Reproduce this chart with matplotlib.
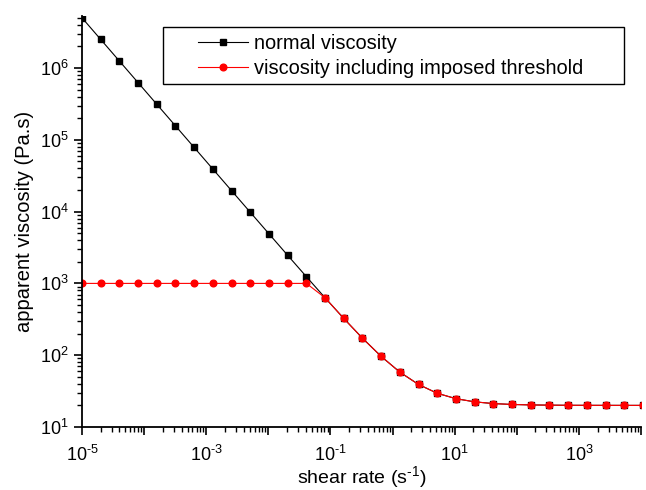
import matplotlib
matplotlib.use('Agg')
import matplotlib.pyplot as plt
from matplotlib.patches import Rectangle
from matplotlib.ticker import LogLocator, FixedLocator, NullFormatter

plt.rcParams['font.family'] = ['Liberation Sans', 'DejaVu Sans']
plt.rcParams['mathtext.fontset'] = 'custom'
plt.rcParams['mathtext.rm'] = 'Liberation Sans'
plt.rcParams['mathtext.it'] = 'Liberation Sans'

# shear rate (1/s)
shear_rate = [1e-5, 2e-5, 4e-5, 8e-5, 1.6e-4, 3.2e-4, 6.4e-4, 1.28e-3,
              2.56e-3, 5.12e-3, 1.024e-2, 2.048e-2, 4.096e-2, 8.192e-2,
              0.16384, 0.32768, 0.65536, 1.31072, 2.62144, 5.24288,
              10.48576, 20.97152, 41.94304, 83.88608, 167.77216, 335.54432,
              671.08864, 1342.17728, 2684.35456, 5368.70912, 10737.41824]
# apparent viscosity (Pa.s)
normal_visc = [5.0e6, 2.5e6, 1.25e6, 6.25e5, 3.125e5, 1.5627e5, 78145, 39082,
               19551, 9786, 4903, 2461, 1241, 630.4,
               325.2, 172.6, 96.3, 58.1, 39.1, 29.5,
               24.8, 22.4, 21.2, 20.6, 20.3, 20.15,
               20.07, 20.04, 20.02, 20.01, 20.0]
threshold_visc = [1000, 1000, 1000, 1000, 1000, 1000, 1000, 1000,
                  1000, 1000, 1000, 1000, 1000, 630.4,
                  325.2, 172.6, 96.3, 58.1, 39.1, 29.5,
                  24.8, 22.4, 21.2, 20.6, 20.3, 20.15,
                  20.07, 20.04, 20.02, 20.01, 20.0]

W, H = 646, 490
fig = plt.figure(figsize=(W / 100, H / 100), dpi=100)
ax = fig.add_axes([82 / W, 63 / H, 559 / W, 411 / H])

ax.plot(shear_rate, normal_visc, color='black', lw=0.8, marker='s', ms=3.8,
        label='normal viscosity')
ax.plot(shear_rate, threshold_visc, color='red', lw=0.8, marker='o', ms=4.8,
        label='viscosity including imposed threshold')

ax.set_xscale('log')
ax.set_yscale('log')
ax.set_xlim(1e-5, 1e4)
ax.set_ylim(1e1, 5.3e6)

ax.spines['top'].set_visible(False)
ax.spines['right'].set_visible(False)
for s in ['left', 'bottom']:
    ax.spines[s].set_linewidth(1.3)

def sup(e):
    return r'$10^{\text{%d}}$' % e

ax.xaxis.set_major_locator(FixedLocator([10.0**e for e in range(-5, 5)]))
ax.set_xticklabels([sup(e) if e % 2 != 0 else '' for e in range(-5, 5)])
ax.xaxis.set_minor_locator(LogLocator(base=10, subs=range(2, 10), numticks=20))
ax.xaxis.set_minor_formatter(NullFormatter())
ax.yaxis.set_major_locator(FixedLocator([10.0**e for e in range(1, 7)]))
ax.set_yticklabels([sup(e) for e in range(1, 7)])
ax.yaxis.set_minor_locator(LogLocator(base=10, subs=range(2, 10), numticks=20))
ax.yaxis.set_minor_formatter(NullFormatter())

ax.tick_params(which='major', direction='out', length=6, width=1.2, labelsize=13)
ax.tick_params(which='minor', direction='out', length=3.5, width=1.0)
ax.tick_params(axis='x', which='major', pad=7)

ax.set_xlabel(r'shear rate (s$^{\text{-1}}$)', fontsize=14, labelpad=-1)
ax.set_ylabel('apparent viscosity (Pa.s)', fontsize=14.5, labelpad=4)

# legend box drawn separately so handles can sit inside with a wide margin
fig.patches.append(Rectangle((163 / W, 1 - 84 / H), 461 / W, 57 / H,
                             transform=fig.transFigure, fill=False,
                             edgecolor='black', lw=1.0))
leg = ax.legend(loc='upper left', bbox_to_anchor=(198 / W, 1 - 34 / H),
                bbox_transform=fig.transFigure, fontsize=14.4, frameon=False,
                handlelength=2.5, handletextpad=0.3, borderpad=0,
                borderaxespad=0, labelspacing=0.3)

fig.savefig('out.png', dpi=100)
